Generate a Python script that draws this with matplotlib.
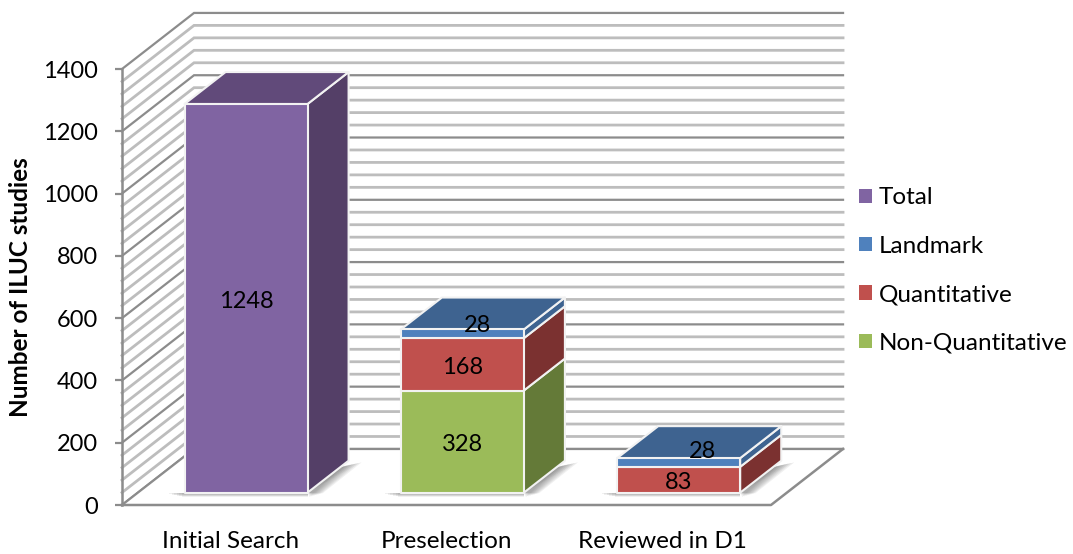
import matplotlib
matplotlib.use("Agg")
from matplotlib import pyplot as plt
from matplotlib.patches import Polygon, Patch

plt.rcParams['font.family'] = ['Lato', 'DejaVu Sans']

categories = ["Initial Search", "Preselection", "Reviewed in D1"]
series_names = ["Non-Quantitative", "Quantitative", "Landmark", "Total"]
non_quant = [0, 328, 0]
quant = [0, 168, 83]
landmark = [0, 28, 28]
total = [1248, 0, 0]
y_major = [0, 200, 400, 600, 800, 1000, 1200, 1400]

# front, top, side colours for each series
front_cols = ["#9BBB59", "#C0504D", "#4F81BD", "#8064A2"]
top_cols = ["#7D9A45", "#9A3F3D", "#3E6390", "#614A7A"]
side_cols = ["#647A38", "#7B3130", "#3E6390", "#543F67"]

# oblique depth of the box, in data units
DX = 0.333
DY = 180
BAR_W = 0.5686
Z0 = 0.22
Z1 = 0.79


def proj(x, y, z):
    return (x + z * DX, y + z * DY)


def face(ax, pts, col, zo, ec="#F2F2F2", lw=1.5):
    ax.add_patch(Polygon(pts, closed=True, fc=col, ec=ec, lw=lw, zorder=zo, clip_on=False, joinstyle="round"))


def shadow(ax, left, right, zo):
    # soft shadow on the floor, a few see-through layers
    for k in range(7):
        grow = 1 + k
        a = proj(left - 0.012 * grow, 0, Z0)
        b = proj(right, 0, Z0)
        c = proj(right + 0.01 * grow, 0, Z1 - 0.1 + 0.01 * grow)
        d = proj(right, 0, Z1 - 0.12)
        e = proj(left - 0.012 * grow, -2 * (8 - grow), Z0)
        f = proj(right, -2 * (8 - grow), Z0)
        ax.add_patch(Polygon([b, d, c], closed=True, fc="#444444", ec="none", alpha=0.1, zorder=zo, clip_on=False))
        ax.add_patch(Polygon([a, b, f, e], closed=True, fc="#444444", ec="none", alpha=0.08, zorder=zo, clip_on=False))
        ax.add_patch(Polygon([b, c, proj(right + 0.01 * grow, -2 * (8 - grow), Z0)], closed=True, fc="#444444", ec="none", alpha=0.08, zorder=zo, clip_on=False))


def draw_box(ax, x, base, height, i, zo, show_top):
    left, right = x - BAR_W / 2, x + BAR_W / 2
    top = base + height
    face(ax, [proj(right, base, Z0), proj(right, base, Z1), proj(right, top, Z1), proj(right, top, Z0)], side_cols[i], zo)
    face(ax, [proj(left, base, Z0), proj(right, base, Z0), proj(right, top, Z0), proj(left, top, Z0)], front_cols[i], zo + 0.1)
    if show_top:
        face(ax, [proj(left, top, Z0), proj(right, top, Z0), proj(right, top, Z1), proj(left, top, Z1)], top_cols[i], zo + 0.05)


fig = plt.figure(figsize=(10.73, 5.54), dpi=100)
ax = fig.add_axes([122 / 1073, (554 - 505) / 554, (771 - 122) / 1073, (505 - 69) / 554])
ax.set_xlim(0, 3)
ax.set_ylim(0, 1400)

# walls, major lines are darker
for v in range(0, 1401, 40):
    major = v % 200 == 0
    col = "#8C8C8C" if major else "#BDBDBD"
    lw = 1.6 if major else 2.0
    ax.plot([0, DX, 3 + DX], [v, v + DY, v + DY], color=col, lw=lw, clip_on=False, zorder=1, solid_joinstyle="miter")

# floor
ax.plot([0, 3, 3 + DX], [0, 0, DY], color="#8C8C8C", lw=1.8, clip_on=False, zorder=2)
ax.add_patch(Polygon([(0, 0), (3, 0), (3 + DX, DY), (DX, DY)], closed=True, fc="white", ec="none", zorder=1.5, clip_on=False))
ax.plot([DX, 3 + DX], [DY, DY], color="#8C8C8C", lw=1.6, clip_on=False, zorder=1.6)
ax.plot([0, DX], [0, DY], color="#8C8C8C", lw=1.6, clip_on=False, zorder=1.6)

# bars, back to front
for c in range(len(categories)):
    x = c + 0.5
    vals = [non_quant[c], quant[c], landmark[c], total[c]]
    shadow(ax, x - BAR_W / 2, x + BAR_W / 2, 3 + c)
    base = 0
    last = max(i for i, v in enumerate(vals) if v > 0)
    for i, v in enumerate(vals):
        if v == 0:
            continue
        draw_box(ax, x, base, v, i, 4 + c + i * 0.2, i == last)
        base += v

# value labels, with the little shift the 28s have in the picture
fs = 17.5
for c in range(len(categories)):
    x = c + 0.5
    vals = [non_quant[c], quant[c], landmark[c], total[c]]
    base = 0
    for i, v in enumerate(vals):
        if v == 0:
            continue
        px, py = proj(x, base + v / 2, Z0)
        off = (0, -3)
        if i == 2:
            off = (15 if c == 1 else 24, 8 if c == 1 else 11)
        ax.annotate(str(v), (px, py), xytext=off, textcoords="offset pixels", ha="center", va="center",
                    fontsize=17, color="black", zorder=20, annotation_clip=False)
        base += v

ax.set_xticks([c + 0.5 for c in range(len(categories))])
ax.set_xticklabels(categories, fontsize=fs)
ax.set_yticks(y_major)
ax.set_yticklabels([str(v) for v in y_major], fontsize=17)
ax.tick_params(axis="x", length=0, pad=19)
ax.tick_params(axis="y", length=5, width=1.6, color="#8C8C8C", pad=12.5)
for s in ["top", "right", "bottom"]:
    ax.spines[s].set_visible(False)
ax.spines["left"].set_color("#8C8C8C")
ax.spines["left"].set_linewidth(1.8)
ax.patch.set_visible(False)
ax.set_zorder(3)

fig.text(21 / 1073, 1 - 287 / 554, "Number of ILUC studies", rotation=90, ha="center", va="center",
         fontsize=17.5, fontweight="bold")

handles = [Patch(fc=front_cols[i], ec="none") for i in [3, 2, 1, 0]]
labels = [series_names[i] for i in [3, 2, 1, 0]]
fig.legend(handles, labels, loc="center left", bbox_to_anchor=(859 / 1073, 1 - 270.5 / 554), frameon=False,
           fontsize=fs, handlelength=0.53, handleheight=0.53, handletextpad=0.29, labelspacing=1.13, borderpad=0, borderaxespad=0)

fig.savefig("out.png", dpi=100)
